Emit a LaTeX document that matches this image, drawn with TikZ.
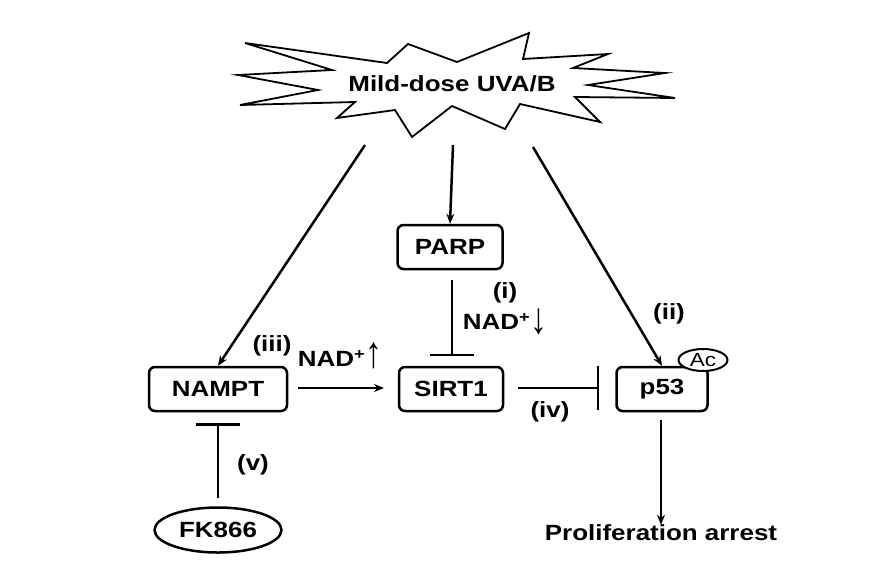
\documentclass[tikz,border=0pt]{standalone}
\usepackage{fontspec}
\setmainfont{Liberation Sans}[FakeStretch=1.18]
\usetikzlibrary{arrows.meta,shapes.geometric}
\newcommand{\tallup}{\raisebox{-1pt}{\scalebox{1.3}[2.0]{↑}}}
\newcommand{\talldown}{\raisebox{-4pt}{\scalebox{1.3}[2.0]{↓}}}
\begin{document}
\begin{tikzpicture}[x=1pt,y=-1pt,
  lw/.style={line width=2.5pt},
  txt/.style={font=\fontsize{22}{26}\selectfont\bfseries, inner sep=0pt},
  box/.style={lw, draw, rounded corners=6pt, minimum height=44pt, inner sep=0pt, font=\fontsize{22}{26}\selectfont\bfseries},
  arr/.style={lw, -{Stealth[length=10pt,width=8pt]}},
  inh/.style={lw, -{Bar[width=44pt,line width=2.5pt]}}]
\useasboundingbox (0,0) rectangle (888,587);
% burst
\draw[line width=1.8pt, line join=miter]
  (245,43) -- (387,63) -- (408,44) -- (457,62) -- (529,33) -- (523,59) -- (608,54) -- (573,68)
  -- (665,73) -- (588,85) -- (675,98) -- (575,97) -- (600,122) -- (520,104) -- (505,129)
  -- (452,106) -- (412,137) -- (395,110) -- (337,118) -- (355,102) -- (240,105) -- (318,90)
  -- (238,75) -- (332,70) -- cycle;
\node[txt] (uv) at (452,84) {Mild-dose UVA/B};
\coordinate (s1) at (365,145);
\coordinate (s2) at (453,145);
\coordinate (s3) at (533,147);
% boxes
\node[box, minimum width=105pt] (parp) at (450,247) {PARP};
\node[box, minimum width=104pt] (sirt) at (451,389) {SIRT1};
\node[box, minimum width=138pt] (nampt) at (218,389) {NAMPT};
\node[box, minimum width=91pt] (p53) at (662,389) {p53};
\node[ellipse, draw, line width=2pt, minimum width=49pt, minimum height=22pt, inner sep=0pt,
      font=\fontsize{19}{21}\selectfont, fill=white] (ac) at (703,360) {Ac};
\node[ellipse, draw, line width=2.5pt, minimum width=127pt, minimum height=45pt, inner sep=0pt,
      font=\fontsize{22}{26}\selectfont\bfseries] (fk) at (218,530) {FK866};
\node[txt] (pa) at (661,533) {Proliferation arrest};
% connectors
\draw[arr] (s1) -- (nampt.north);
\draw[arr] (s2) -- (parp.north);
\draw[arr] (s3) -- (p53.north);
\coordinate (pi1) at (452,280);
\coordinate (pi2) at (452,356);
\draw[inh] (pi1) -- (pi2);
\coordinate (ni1) at (298,388);
\coordinate (ni2) at (384,388);
\draw[arr] (ni1) -- (ni2);
\coordinate (si1) at (518,388);
\coordinate (si2) at (599,388);
\draw[inh] (si1) -- (si2);
\coordinate (fi1) at (218,498);
\coordinate (fi2) at (218,423);
\draw[inh] (fi1) -- (fi2);
\coordinate (pp1) at (661,420);
\draw[arr] (pp1) -- (pa.north);
% labels
\node[txt] (li) at (505,293) {(i)};
\node[txt] (ldown) at (505,322) {NAD\textsuperscript{+}\talldown};
\node[txt] (lii) at (669,314) {(ii)};
\node[txt] (liii) at (272,346) {(iii)};
\node[txt] (lup) at (340,356) {NAD\textsuperscript{+}\tallup};
\node[txt] (liv) at (550,412) {(iv)};
\node[txt] (lv) at (253,465) {(v)};
\end{tikzpicture}
\end{document}
